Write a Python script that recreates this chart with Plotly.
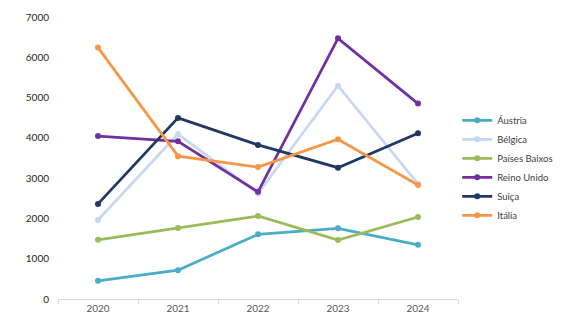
import plotly.graph_objects as go

years = ["2020", "2021", "2022", "2023", "2024"]
series_names = ["Áustria", "Bélgica", "Países Baixos", "Reino Unido", "Suiça", "Itália"]
austria = [450, 715, 1605, 1755, 1345]
belgica = [1960, 4095, 2620, 5295, 2860]
paises_baixos = [1470, 1760, 2060, 1465, 2035]
reino_unido = [4045, 3915, 2660, 6470, 4850]
suica = [2360, 4495, 3825, 3260, 4115]
italia = [6240, 3545, 3275, 3965, 2830]
y_ticks = [0, 1000, 2000, 3000, 4000, 5000, 6000, 7000]

values = [austria, belgica, paises_baixos, reino_unido, suica, italia]
colors = ["#4BACC6", "#C6D9F1", "#9BBB59", "#7030A0", "#1F3864", "#F79646"]

fig = go.Figure()
for name, vals, col in zip(series_names, values, colors):
    fig.add_trace(go.Scatter(
        x=years, y=vals, name=name, mode="lines+markers",
        line=dict(color=col, width=2.75),
        marker=dict(color=col, size=6),
    ))

fig.update_layout(
    width=561, height=336,
    margin=dict(l=58, r=103, t=17, b=37, autoexpand=False),
    paper_bgcolor="white", plot_bgcolor="white",
    font=dict(family="Lato, Open Sans, sans-serif", size=10, color="#595959"),
    showlegend=True,
    legend=dict(x=0.998, xanchor="left", y=0.465, yanchor="middle",
                font=dict(size=9.5, color="#404040"), itemwidth=30,
                bgcolor="rgba(0,0,0,0)"),
)
fig.update_xaxes(type="category", range=[-0.5, 4.5], showgrid=False,
                 showline=True, linecolor="#D9D9D9", linewidth=1,
                 ticks="outside", tickson="boundaries", ticklen=4, tickcolor="#D9D9D9",
                 tickfont=dict(size=10, color="#595959"))
fig.update_yaxes(range=[0, 7000], tickvals=y_ticks, showgrid=False, zeroline=False,
                 showline=False, ticks="", ticklabelstandoff=8,
                 tickfont=dict(size=10, color="#262626"))

fig.write_html("out.html")
